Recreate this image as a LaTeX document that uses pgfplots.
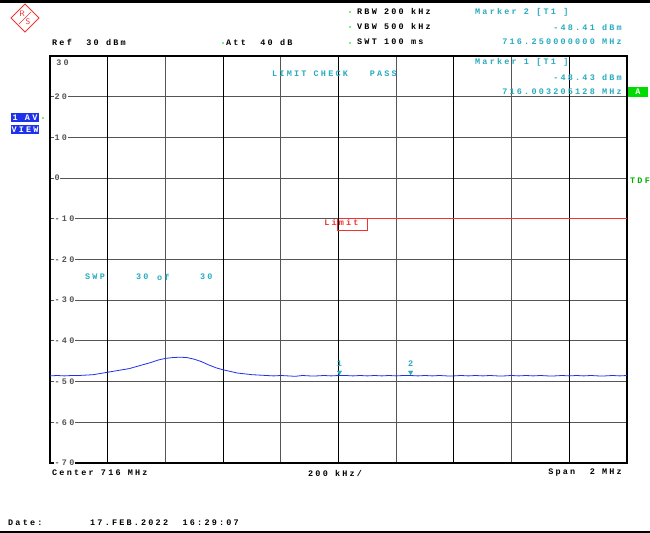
\documentclass[border=0pt]{standalone}
\usepackage{pgfplots}
\pgfplotsset{compat=1.18}
\usepackage{fontspec}
\newfontfamily\rs[LetterSpace=26]{Liberation Mono}
\definecolor{rscyan}{RGB}{40,172,192}
\definecolor{rsblue}{RGB}{30,50,235}
\definecolor{rsgreen}{RGB}{0,220,0}
\definecolor{rsgrid}{RGB}{85,85,85}
\definecolor{rsred}{RGB}{240,50,50}
\begin{document}
\begin{tikzpicture}[font=\rs\bfseries\fontsize{8.5}{9}\selectfont]
\useasboundingbox[fill=white] (0,0) rectangle (650bp,533bp);
\fill[black] (0,530bp) rectangle (650bp,533bp);
\fill[black] (0,0) rectangle (650bp,2bp);
% R&S logo
\begin{scope}[shift={(25bp,515bp)}]
\draw[rsred,line width=0.8bp] (0,14bp) -- (14bp,0) -- (0,-14bp) -- (-14bp,0) -- cycle;
\draw[rsred,line width=0.5bp] (-6bp,-6bp) -- (6bp,6bp);
\node[rsred,font=\sffamily\fontsize{8}{8}\selectfont] at (-3bp,4bp) {R};
\node[rsred,font=\sffamily\fontsize{8}{8}\selectfont] at (3bp,-4bp) {S};
\end{scope}
\begin{axis}[
  at={(50bp,70bp)}, anchor=south west,
  width=577bp, height=407bp, scale only axis,
  xmin=715, xmax=717, ymin=-70, ymax=30,
  axis line style={line width=2bp},
  xtick={715.4,715.8,716.2,716.6},
  xticklabels={},
  extra x ticks={715.2,715.6,716.4,716.8},
  extra x tick labels={},
  extra x tick style={grid style={black,line width=0.9bp}},
  ytick={-70,-60,-50,-40,-30,-20,-10,0,10,20},
  yticklabels={-70,-60,-50,-40,-30,-20,-10,0,10,20},
  yticklabel style={anchor=west, xshift=4bp, fill=white, inner sep=0.5bp, text=rsgrid, font=\rs\bfseries\fontsize{8.5}{9}\selectfont},
  major tick length=0pt,
  grid=major,
  grid style={rsgrid,line width=0.9bp},
  clip=false,
]
\addplot[black,line width=1.6bp] coordinates {(716,-70) (716,30)};
\addplot[rsred,line width=0.8bp] coordinates {(716,-10) (717,-10)};
\addplot[rsblue,line width=0.8bp] coordinates {
(715.000,-48.6) (715.025,-48.5) (715.050,-48.6) (715.075,-48.5) (715.100,-48.5)
(715.125,-48.4) (715.150,-48.3) (715.175,-48.0) (715.200,-47.7) (715.225,-47.4)
(715.250,-47.1) (715.275,-46.8) (715.300,-46.3) (715.325,-45.8) (715.350,-45.3)
(715.375,-44.7) (715.400,-44.3) (715.425,-44.1) (715.450,-44.0) (715.475,-44.1)
(715.500,-44.5) (715.525,-45.1) (715.550,-45.9) (715.575,-46.6) (715.600,-47.1)
(715.625,-47.5) (715.650,-47.9) (715.675,-48.1) (715.700,-48.3) (715.725,-48.4)
(715.750,-48.5) (715.775,-48.6) (715.800,-48.5) (715.825,-48.6) (715.850,-48.7)
(715.875,-48.5) (715.900,-48.6) (715.925,-48.6) (715.950,-48.5) (715.975,-48.6)
(716.000,-48.5) (716.025,-48.5) (716.050,-48.6) (716.075,-48.5) (716.100,-48.6)
(716.125,-48.5) (716.150,-48.6) (716.175,-48.5) (716.200,-48.6) (716.225,-48.5)
(716.250,-48.5) (716.275,-48.6) (716.300,-48.5) (716.325,-48.6) (716.350,-48.5)
(716.375,-48.6) (716.400,-48.6) (716.425,-48.5) (716.450,-48.6) (716.475,-48.5)
(716.500,-48.6) (716.525,-48.5) (716.550,-48.6) (716.575,-48.6) (716.600,-48.5)
(716.625,-48.6) (716.650,-48.5) (716.675,-48.6) (716.700,-48.5) (716.725,-48.6)
(716.750,-48.6) (716.775,-48.5) (716.800,-48.6) (716.825,-48.5) (716.850,-48.6)
(716.875,-48.5) (716.900,-48.6) (716.925,-48.6) (716.950,-48.5) (716.975,-48.6)
(717.000,-48.5)};
\addplot[only marks, mark=triangle*, mark options={rotate=180, fill=rscyan, draw=rscyan}, mark size=2.5bp]
  coordinates {(716.003205128,-47.7) (716.25,-47.7)};
\node[rscyan] at (axis cs:716.003,-45.6) {1};
\node[rscyan] at (axis cs:716.25,-45.6) {2};
\node[anchor=west,inner sep=0.5pt,text=rsgrid] at (axis cs:715.02,28.3) {30};
% limit label
\draw[rsred,line width=0.6bp] (axis cs:715.995,-10) -- (axis cs:715.995,-12.9) -- (axis cs:716.1,-12.9) -- (axis cs:716.1,-10);
\node[rsred,anchor=west,inner sep=0pt] at (axis cs:715.95,-10.9) {Limit};
\end{axis}
% header texts
\node[anchor=west,inner sep=0pt] at (52bp,491bp) {Ref\ \ 30 dBm};
\fill[rsgreen] (223bp,490bp) circle (0.9bp);
\node[anchor=west,inner sep=0pt] at (226bp,491bp) {Att\ \ 40 dB};
\fill[rsgreen] (350bp,521bp) circle (0.9bp);
\fill[rsgreen] (350bp,506bp) circle (0.9bp);
\fill[rsgreen] (350bp,490bp) circle (0.9bp);
\node[anchor=west,inner sep=0pt] at (357bp,522bp) {RBW\ 200 kHz};
\node[anchor=west,inner sep=0pt] at (357bp,507bp) {VBW\ 500 kHz};
\node[anchor=west,inner sep=0pt] at (357bp,491bp) {SWT\ 100 ms};
\node[anchor=west,inner sep=0pt,rscyan] at (475bp,521bp) {Marker 2 [T1 ]};
\node[anchor=east,inner sep=0pt,rscyan] at (622bp,506bp) {-48.41 dBm};
\node[anchor=east,inner sep=0pt,rscyan] at (622bp,491bp) {716.250000000 MHz};
\node[anchor=west,inner sep=0pt,rscyan] at (475bp,471bp) {Marker 1 [T1 ]};
\node[anchor=east,inner sep=0pt,rscyan] at (622bp,456bp) {-48.43 dBm};
\node[anchor=east,inner sep=0pt,rscyan] at (622bp,441bp) {716.003205128 MHz};
\node[anchor=west,inner sep=0pt,rscyan] at (272bp,459bp) {LIMIT CHECK\ \ \ PASS};
\node[anchor=west,inner sep=0pt,rscyan] at (85bp,256bp) {SWP};
\node[anchor=west,inner sep=0pt,rscyan] at (136bp,256bp) {30};
\node[anchor=west,inner sep=0pt,rscyan] at (157bp,256bp) {of};
\node[anchor=west,inner sep=0pt,rscyan] at (200bp,256bp) {30};
% left boxes
\node[fill=rsblue,text=white,minimum width=28bp,minimum height=9bp,inner sep=0pt] at (25bp,415.5bp) {1 AV};
\node[fill=rsblue,text=white,minimum width=28bp,minimum height=9bp,inner sep=0pt] at (25bp,403.5bp) {VIEW};
\fill[rsgreen] (43bp,415bp) circle (0.9bp);
% right
\node[fill=rsgreen,text=white,minimum width=20bp,minimum height=10bp,inner sep=0pt] at (638bp,441bp) {A};
\node[anchor=west,inner sep=0pt,text=rsgreen!80!black] at (630bp,352bp) {TDF};
% bottom
\node[anchor=west,inner sep=0pt] at (52bp,60bp) {Center 716 MHz};
\node[anchor=west,inner sep=0pt] at (308bp,60bp) {200 kHz/};
\node[anchor=east,inner sep=0pt] at (622bp,60bp) {Span\ \ 2 MHz};
\node[anchor=west,inner sep=0pt] at (8bp,10bp) {Date:};
\node[anchor=west,inner sep=0pt] at (90bp,10bp) {17.FEB.2022\ \ 16:29:07};
\end{tikzpicture}
\end{document}
